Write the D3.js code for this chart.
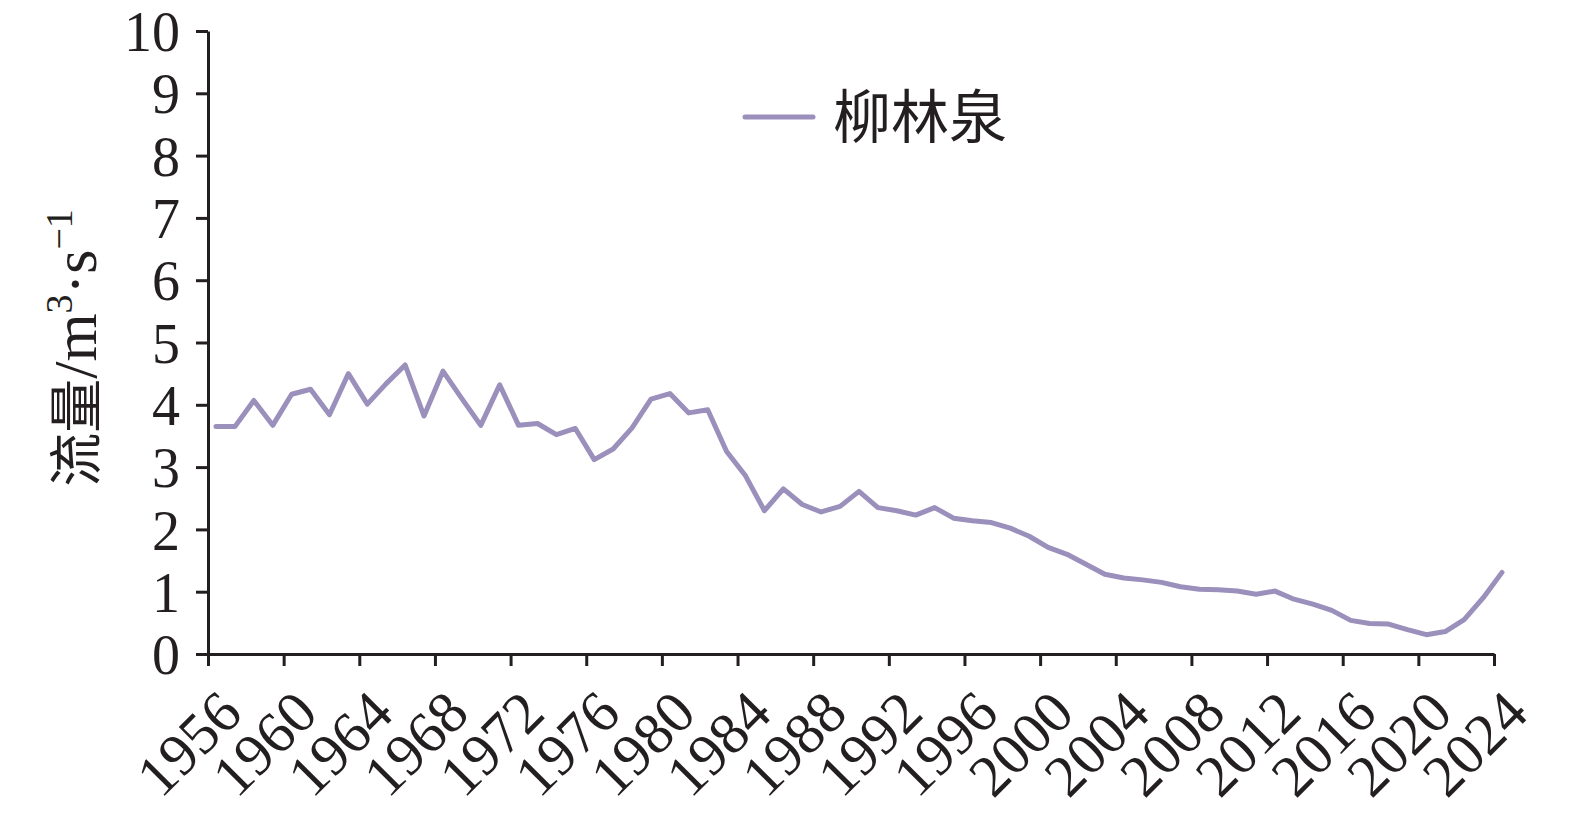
<html>
  <head>
    <meta charset="utf-8">
    <title>柳林泉流量</title>
    <script src="https://cdn.jsdelivr.net/npm/d3@7/dist/d3.min.js"></script>
    <style>
      body { margin: 0; background: #fff; }
      .axis path, .axis line { stroke: #231f20; stroke-width: 3px; }
      .axis text { font-family: "Liberation Serif", "Times New Roman", serif; fill: #231f20; }
    </style>
  </head>
  <body>
    <script>
// data
const years = d3.range(1956, 2025);
const flow = [
  3.65, 3.65, 4.07, 3.67, 4.17, 4.25, 3.84, 4.50, 4.01, 4.34,
  4.64, 3.82, 4.54, 4.10, 3.67, 4.32, 3.67, 3.70, 3.52, 3.62,
  3.12, 3.29, 3.63, 4.09, 4.18, 3.87, 3.92, 3.25, 2.86, 2.30,
  2.65, 2.40, 2.28, 2.37, 2.61, 2.35, 2.30, 2.23, 2.35, 2.18,
  2.14, 2.11, 2.02, 1.89, 1.71, 1.60, 1.44, 1.28, 1.22, 1.19,
  1.15, 1.08, 1.04, 1.03, 1.01, 0.96, 1.01, 0.88, 0.80, 0.70,
  0.54, 0.49, 0.48, 0.39, 0.31, 0.36, 0.55, 0.90, 1.31
];
const xTicks = d3.range(1956, 2025, 4);
const yTicks = d3.range(0, 11, 1);
const seriesName = "柳林泉";

const w = 1575;
const h = 817;
const lineColor = "#9a90bb";

const svg = d3.select("body").append("svg")
  .attr("width", w)
  .attr("height", h);

const xScale = d3.scaleLinear().domain([1956, 2024]).range([208, 1494]);
const yScale = d3.scaleLinear().domain([0, 10]).range([654, 31]);

// y axis
const yAxis = d3.axisLeft(yScale)
  .tickValues(yTicks)
  .tickSize(12)
  .tickSizeOuter(0)
  .tickPadding(16);
svg.append("g")
  .attr("class", "axis")
  .attr("transform", "translate(" + xScale(1956) + ",0)")
  .call(yAxis)
  .selectAll("text")
  .attr("font-size", "56px")
  .attr("dy", "0.35em");

// x axis
const xAxis = d3.axisBottom(xScale)
  .tickValues(xTicks)
  .tickFormat(d3.format("d"))
  .tickSize(12)
  .tickSizeOuter(0);
svg.append("g")
  .attr("class", "axis")
  .attr("transform", "translate(0," + yScale(0) + ")")
  .call(xAxis)
  .selectAll("text")
  .attr("font-size", "59px")
  .attr("x", 0)
  .attr("y", 0)
  .attr("dy", 0)
  .attr("text-anchor", "end")
  .attr("transform", "translate(36,62) rotate(-45)");

// y axis title
svg.append("text")
  .attr("transform", "translate(96,348) rotate(-90)")
  .attr("text-anchor", "middle")
  .attr("font-family", "'Liberation Serif', 'Noto Sans CJK SC', serif")
  .attr("font-size", "62px")
  .attr("fill", "#231f20")
  .html("<tspan font-size='54px'>流量</tspan>/m<tspan font-size='38px' dy='-24'>3</tspan><tspan dy='24'>·s</tspan><tspan font-size='38px' dy='-24'>−1</tspan>");

// the line
const line = d3.line()
  .x(function(d, i) { return xScale(years[i]); })
  .y(function(d) { return yScale(d); });

svg.append("g")
  .attr("transform", "translate(8,0)")
  .append("path")
  .datum(flow)
  .attr("d", line)
  .attr("fill", "none")
  .attr("stroke", lineColor)
  .attr("stroke-width", 5)
  .attr("stroke-linejoin", "round")
  .attr("stroke-linecap", "round");

// legend
const legend = svg.append("g").attr("transform", "translate(745,117)");
legend.append("line")
  .attr("x1", 0).attr("x2", 68)
  .attr("y1", 0).attr("y2", 0)
  .attr("stroke", lineColor)
  .attr("stroke-width", 5)
  .attr("stroke-linecap", "round");
legend.append("text")
  .attr("x", 88)
  .attr("y", 0)
  .attr("dy", "0.36em")
  .attr("font-family", "'Noto Sans CJK SC', sans-serif")
  .attr("font-size", "58px")
  .attr("fill", "#231f20")
  .text(seriesName);
    </script>
  </body>
</html>
